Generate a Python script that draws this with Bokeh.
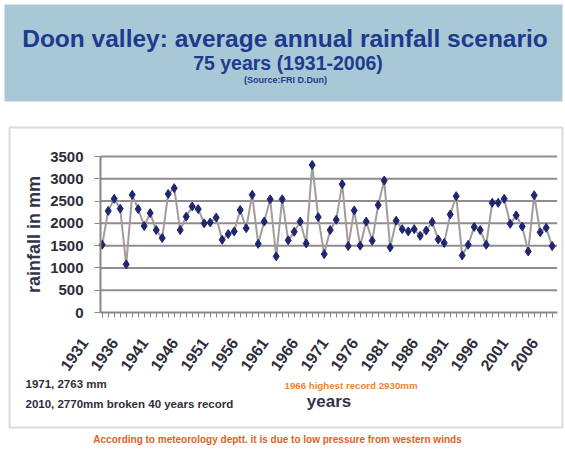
from bokeh.plotting import figure
from bokeh.models import Range1d, FixedTicker, Label, BoxAnnotation, LinearAxis
from bokeh.embed import file_html
from bokeh.resources import INLINE

# ---- data ----
years = list(range(1931, 2007))
rainfall = [1520, 2280, 2550, 2330, 1080, 2640, 2320, 1940, 2230, 1850,
            1670, 2660, 2790, 1850, 2150, 2380, 2320, 2000, 2020, 2130,
            1630, 1760, 1820, 2300, 1890, 2640, 1540, 2040, 2540, 1260,
            2540, 1620, 1810, 2040, 1550, 3310, 2140, 1310, 1850, 2080,
            2880, 1490, 2290, 1500, 2040, 1610, 2410, 2960, 1460, 2060,
            1870, 1820, 1870, 1720, 1840, 2030, 1640, 1560, 2200, 2610,
            1280, 1520, 1920, 1850, 1520, 2460, 2460, 2550, 1990, 2180,
            1930, 1370, 2630, 1800, 1900, 1490]
label_years = list(range(1931, 2007, 5))
tick_labels = [str(y) for y in label_years]
y_ticks = [0, 500, 1000, 1500, 2000, 2500, 3000, 3500]

title = "Doon valley: average annual rainfall scenario"
subtitle = "75 years (1931-2006)"
source = "(Source:FRI D.Dun)"
note1 = "1971, 2763 mm"
note2 = "2010,  2770mm broken 40 years record"
note3 = "1966 highest record 2930mm"
footer = "According to meteorology deptt. it is due to low pressure from western winds"

FONT = "Liberation Sans"
DARK = "#2e2e3a"
NAVY = "#1d3b8e"
AXIS_GRAY = "#8a8686"
X_LO, X_HI = 1930.72, 2006.83      # extent of the plotting area (years)
LABEL_SHIFT = 3.0                  # year labels sit left of their ticks in the source

# the frame fills the whole canvas; axes are pinned inside it
p = figure(width=565, height=449, output_backend="svg", toolbar_location=None,
           x_range=Range1d(1914.05, 2008.2167), y_range=Range1d(-3073.7, 7000),
           min_border=0)
p.background_fill_color = "white"
p.border_fill_color = "white"
p.outline_line_color = None
p.xgrid.visible = False
p.ygrid.visible = False

# decorative boxes (screen units: origin bottom-left of canvas)
p.add_layout(BoxAnnotation(left=4, right=562, bottom=348, top=445,
                           left_units="screen", right_units="screen",
                           bottom_units="screen", top_units="screen",
                           fill_color="#a9c8d6", fill_alpha=1.0,
                           line_color=None, level="underlay"))
p.add_layout(BoxAnnotation(left=9, right=562, bottom=22, top=322,
                           left_units="screen", right_units="screen",
                           bottom_units="screen", top_units="screen",
                           fill_alpha=0.0, line_color="#8a8585", line_width=2,
                           level="underlay"))

# horizontal gridlines at the y tick values, across the plotting area only
grid_y = y_ticks[1:]
p.segment(x0=[X_LO] * len(grid_y), x1=[X_HI] * len(grid_y), y0=grid_y, y1=grid_y,
          line_color="#938c8c", line_width=2)

# series
p.line(years, rainfall, line_color="#a49c9c", line_width=2)
p.scatter(years, rainfall, marker="diamond", size=9, fill_color="#1f2670",
          line_color="#1f2670")

# x axis: line + yearly ticks + axis title
xa = p.xaxis[0]
xa.fixed_location = 0
xa.bounds = (X_LO, X_HI)
xa.ticker = FixedTicker(ticks=[], minor_ticks=years)
xa.minor_tick_in = 0
xa.minor_tick_out = 5
xa.minor_tick_line_color = AXIS_GRAY
xa.major_tick_line_color = None
xa.axis_line_color = AXIS_GRAY
xa.axis_line_width = 2
xa.axis_label = "years"
xa.axis_label_text_font = FONT
xa.axis_label_text_font_style = "bold"
xa.axis_label_text_font_size = "17px"
xa.axis_label_text_color = "#34344a"
xa.axis_label_standoff = 74

# x axis: rotated year labels
label_pos = [y - LABEL_SHIFT for y in label_years]
xl = LinearAxis(fixed_location=0,
                ticker=FixedTicker(ticks=label_pos, minor_ticks=[]),
                major_label_overrides={pos: s for pos, s in zip(label_pos, tick_labels)},
                major_label_orientation=0.96, major_label_standoff=27,
                major_label_text_font=FONT, major_label_text_font_style="bold",
                major_label_text_font_size="16px", major_label_text_color=DARK,
                axis_line_color=None, major_tick_line_color=None,
                minor_tick_line_color=None, major_tick_in=0, major_tick_out=0)
p.add_layout(xl, "below")

# y axis
ya = p.yaxis[0]
ya.fixed_location = X_LO
ya.bounds = (0, 3500)
ya.ticker = FixedTicker(ticks=y_ticks)
ya.minor_tick_line_color = None
ya.major_tick_in = 0
ya.major_tick_out = 6
ya.major_tick_line_color = AXIS_GRAY
ya.axis_line_color = AXIS_GRAY
ya.axis_line_width = 2
ya.major_label_text_font = FONT
ya.major_label_text_font_style = "bold"
ya.major_label_text_font_size = "15px"
ya.major_label_text_color = DARK
ya.major_label_standoff = 11
ya.axis_label = "rainfall in mm"
ya.axis_label_text_font = FONT
ya.axis_label_text_font_style = "bold"
ya.axis_label_text_font_size = "18px"
ya.axis_label_text_color = "#34344a"
ya.axis_label_standoff = 3

def lab(text, x, y, size, color, align="center"):
    p.add_layout(Label(x=x, y=y, x_units="screen", y_units="screen", text=text,
                       text_font=FONT, text_font_style="bold",
                       text_font_size=size, text_color=color,
                       text_align=align, text_baseline="middle"))

lab(title, 284.5, 411, "24.5px", NAVY)
lab(subtitle, 287.5, 387, "19.5px", NAVY)
lab(source, 285, 370, "9px", NAVY)
lab(note1, 25, 66, "11.5px", DARK, "left")
lab(note2, 25, 46, "11.5px", DARK, "left")
lab(note3, 284, 64, "9.7px", "#ec8430", "left")
lab(footer, 277, 10, "10px", "#e0621e")

open("out.html", "w").write(file_html(p, INLINE))
